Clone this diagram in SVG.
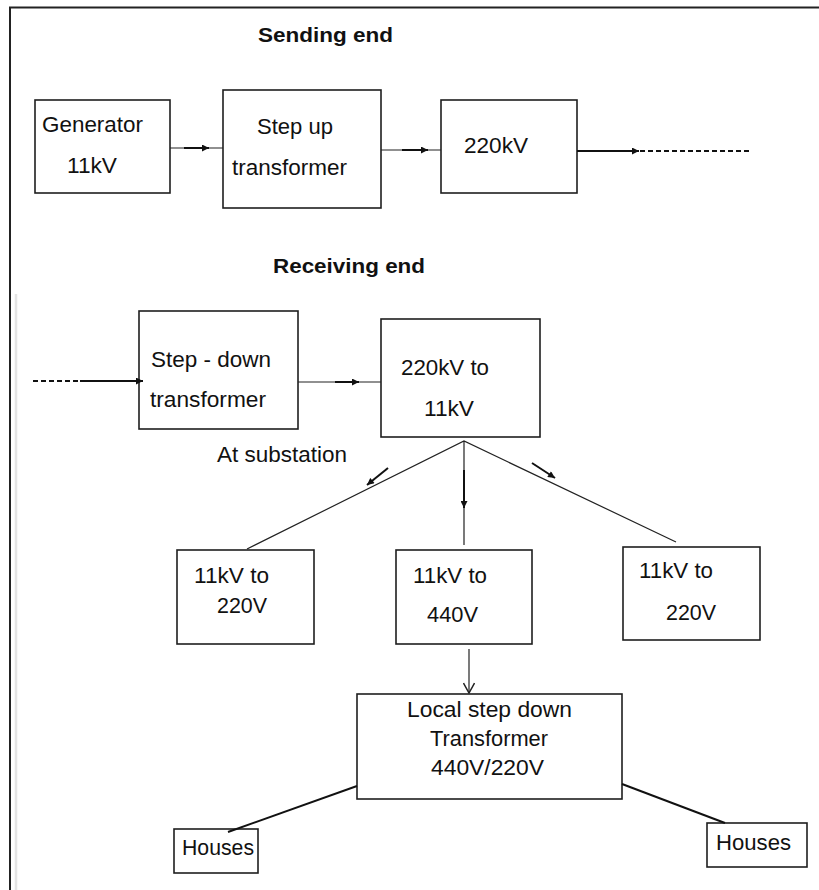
<svg xmlns="http://www.w3.org/2000/svg" width="819" height="890" viewBox="0 0 819 890">
<style>
.box{fill:none;stroke:#1e1e1e;stroke-width:1.6}
.ln{fill:none;stroke:#222;stroke-width:1.2}
.thk{fill:none;stroke:#111;stroke-width:2}
.dash{fill:none;stroke:#111;stroke-width:1.8;stroke-dasharray:5,3}
text{font-family:"Liberation Sans",Arial,Helvetica,sans-serif;font-size:21.5px;fill:#111}
.b{font-weight:bold;font-size:21px}
</style>
<defs>
<marker id="ah" viewBox="0 0 10 10" refX="10" refY="5" markerWidth="9" markerHeight="7" orient="auto" markerUnits="userSpaceOnUse"><path d="M0,0 L10,5 L0,10 z" fill="#111"/></marker>
<marker id="av" viewBox="0 0 12 12" refX="11" refY="6" markerWidth="12" markerHeight="12" orient="auto" markerUnits="userSpaceOnUse"><path d="M1,0.5 L11,6 L1,11.5" fill="none" stroke="#222" stroke-width="1.5"/></marker>
</defs>
<rect width="819" height="890" fill="#fff"/>
<g id="frame">
<path d="M10,890 V7.5 H819" fill="none" stroke="#222" stroke-width="2"/>
<line x1="16" y1="294" x2="16" y2="890" stroke="#e4e4e4" stroke-width="2.5"/>
</g>
<text class="b" x="258" y="42" textLength="135" lengthAdjust="spacingAndGlyphs">Sending end</text>
<text class="b" x="273" y="273" textLength="152" lengthAdjust="spacingAndGlyphs">Receiving end</text>
<text x="217" y="462" textLength="130" lengthAdjust="spacingAndGlyphs">At substation</text>
<g id="generator">
<rect class="box" x="35" y="100" width="135" height="93"/>
<text x="42" y="132" textLength="101" lengthAdjust="spacingAndGlyphs">Generator</text>
<text x="67" y="173" textLength="50" lengthAdjust="spacingAndGlyphs">11kV</text>
</g>
<g id="stepup">
<rect class="box" x="223" y="90" width="158" height="118"/>
<text x="257" y="134" textLength="76" lengthAdjust="spacingAndGlyphs">Step up</text>
<text x="232" y="175" textLength="115" lengthAdjust="spacingAndGlyphs">transformer</text>
</g>
<g id="hv220">
<rect class="box" x="441" y="100" width="136" height="93"/>
<text x="464" y="153" textLength="64" lengthAdjust="spacingAndGlyphs">220kV</text>
</g>
<g id="stepdown">
<rect class="box" x="139" y="311" width="159" height="118"/>
<text x="151" y="367" textLength="120" lengthAdjust="spacingAndGlyphs">Step - down</text>
<text x="150" y="407" textLength="116" lengthAdjust="spacingAndGlyphs">transformer</text>
</g>
<g id="sub">
<rect class="box" x="381" y="319" width="159" height="118"/>
<text x="401" y="375" textLength="88" lengthAdjust="spacingAndGlyphs">220kV to</text>
<text x="424" y="416" textLength="50" lengthAdjust="spacingAndGlyphs">11kV</text>
</g>
<g id="dist-left">
<rect class="box" x="177" y="550" width="137" height="94"/>
<text x="194" y="583" textLength="75" lengthAdjust="spacingAndGlyphs">11kV to</text>
<text x="217" y="613" textLength="50" lengthAdjust="spacingAndGlyphs">220V</text>
</g>
<g id="dist-mid">
<rect class="box" x="396" y="550" width="136" height="94"/>
<text x="413" y="583" textLength="74" lengthAdjust="spacingAndGlyphs">11kV to</text>
<text x="427" y="622" textLength="51" lengthAdjust="spacingAndGlyphs">440V</text>
</g>
<g id="dist-right">
<rect class="box" x="623" y="547" width="137" height="93"/>
<text x="639" y="578" textLength="74" lengthAdjust="spacingAndGlyphs">11kV to</text>
<text x="666" y="620" textLength="50" lengthAdjust="spacingAndGlyphs">220V</text>
</g>
<g id="local">
<rect class="box" x="357" y="694" width="265" height="105"/>
<text x="407" y="717" textLength="165" lengthAdjust="spacingAndGlyphs">Local step down</text>
<text x="430" y="746" textLength="118" lengthAdjust="spacingAndGlyphs">Transformer</text>
<text x="431" y="775" textLength="113" lengthAdjust="spacingAndGlyphs">440V/220V</text>
</g>
<g id="houses-left">
<rect class="box" x="174" y="829" width="84" height="44"/>
<text x="182" y="855" textLength="72" lengthAdjust="spacingAndGlyphs">Houses</text>
</g>
<g id="houses-right">
<rect class="box" x="707" y="823" width="100" height="44"/>
<text x="716" y="850" textLength="75" lengthAdjust="spacingAndGlyphs">Houses</text>
</g>
<g id="connectors">
<line class="ln" x1="170" y1="148" x2="223" y2="148"/>
<line class="thk" x1="184" y1="148" x2="209" y2="148" marker-end="url(#ah)"/>
<line class="ln" x1="381" y1="150" x2="441" y2="150"/>
<line class="thk" x1="402" y1="150" x2="428" y2="150" marker-end="url(#ah)"/>
<line class="thk" x1="577" y1="151" x2="639" y2="151" marker-end="url(#ah)"/>
<line class="dash" x1="640" y1="151" x2="750" y2="151"/>
<line class="dash" x1="33" y1="381" x2="80" y2="381"/>
<line class="thk" x1="80" y1="381" x2="143" y2="381" marker-end="url(#ah)"/>
<line class="ln" x1="298" y1="382" x2="381" y2="382"/>
<line class="thk" x1="335" y1="382" x2="359" y2="382" marker-end="url(#ah)"/>
<path class="ln" d="M247,549 L464,441 L676,542 M464,441 V545"/>
<line class="thk" x1="464" y1="470" x2="464" y2="508" marker-end="url(#ah)" stroke-width="1.5"/>
<line class="thk" x1="388" y1="468" x2="367" y2="485" marker-end="url(#ah)"/>
<line class="thk" x1="532" y1="463" x2="555" y2="478" marker-end="url(#ah)"/>
<line class="ln" x1="469" y1="649" x2="469" y2="693" stroke-width="1.5" marker-end="url(#av)"/>
<line class="thk" x1="357" y1="786" x2="228" y2="832"/>
<line class="thk" x1="622" y1="784" x2="725" y2="823"/>
</g>
</svg>
